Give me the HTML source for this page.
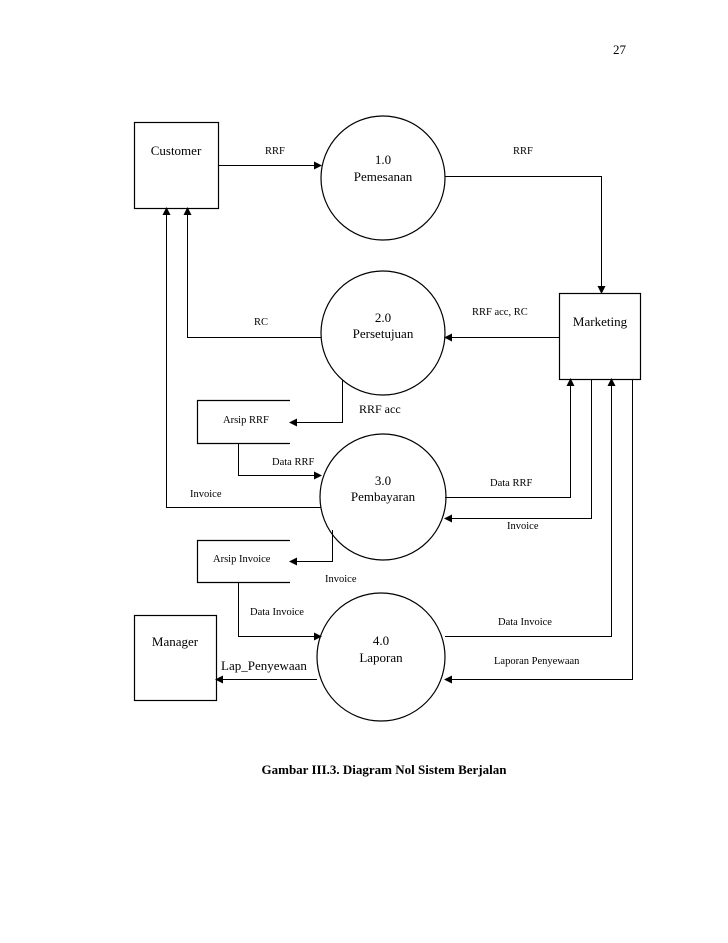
<!DOCTYPE html>
<html><head><meta charset="utf-8"><style>
body{margin:0;background:#fff}
svg{display:block}
text{font-family:"Liberation Serif",serif;fill:#000}
</style></head><body>
<svg width="728" height="943" viewBox="0 0 728 943" xmlns="http://www.w3.org/2000/svg">
<defs><marker id="a" markerWidth="8" markerHeight="8" refX="7" refY="4" orient="auto" markerUnits="userSpaceOnUse"><path d="M0,0 L8,4 L0,8z" fill="#000"/></marker></defs>
<text x="613" y="54" font-size="13">27</text>
<g fill="none" stroke="#000" stroke-width="1.2">
<rect x="134.5" y="122.5" width="84" height="86"/>
<rect x="559.5" y="293.5" width="81" height="86"/>
<rect x="134.5" y="615.5" width="82" height="85"/>
<circle cx="383" cy="178" r="62"/>
<circle cx="383" cy="333" r="62"/>
<circle cx="383" cy="497" r="63"/>
<circle cx="381" cy="657" r="64"/>
<path d="M290 400.5 H197.5 V443.5 H290"/>
<path d="M290 540.5 H197.5 V582.5 H290"/>
</g>
<g fill="none" stroke="#000" stroke-width="1" marker-end="url(#a)">
<path d="M218 165.5 H321"/>
<path d="M445 176.5 H601.5 V293"/>
<path d="M559 337.5 H445"/>
<path d="M321 337.5 H187.5 V208"/>
<path d="M321 507.5 H166.5 V208"/>
<path d="M342.5 380 V422.5 H290"/>
<path d="M238.5 443 V475.5 H321"/>
<path d="M445 497.5 H570.5 V379"/>
<path d="M591.5 379 V518.5 H445"/>
<path d="M332.5 530 V561.5 H290"/>
<path d="M238.5 582 V636.5 H321"/>
<path d="M445 636.5 H611.5 V379"/>
<path d="M632.5 379 V679.5 H445"/>
<path d="M317 679.5 H216"/>
</g>
<g font-size="13" text-anchor="middle">
<text x="176" y="155">Customer</text>
<text x="600" y="326">Marketing</text>
<text x="175" y="646">Manager</text>
<text x="383" y="164">1.0</text><text x="383" y="181">Pemesanan</text>
<text x="383" y="322">2.0</text><text x="383" y="338">Persetujuan</text>
<text x="383" y="485">3.0</text><text x="383" y="501">Pembayaran</text>
<text x="381" y="645">4.0</text><text x="381" y="662">Laporan</text>
</g>
<g font-size="10.5">
<text x="265" y="154">RRF</text>
<text x="513" y="154">RRF</text>
<text x="254" y="325">RC</text>
<text x="472" y="315">RRF acc, RC</text>
<text x="359" y="413" font-size="12">RRF acc</text>
<text x="223" y="423">Arsip RRF</text>
<text x="272" y="465">Data RRF</text>
<text x="190" y="497">Invoice</text>
<text x="490" y="486">Data RRF</text>
<text x="507" y="529">Invoice</text>
<text x="213" y="562">Arsip Invoice</text>
<text x="325" y="582">Invoice</text>
<text x="250" y="615">Data Invoice</text>
<text x="498" y="625">Data Invoice</text>
<text x="494" y="664">Laporan Penyewaan</text>
<text x="221" y="670" font-size="13">Lap_Penyewaan</text>
</g>
<text x="384" y="774" font-size="13" font-weight="bold" text-anchor="middle">Gambar III.3. Diagram Nol Sistem Berjalan</text>
</svg>
</body></html>
